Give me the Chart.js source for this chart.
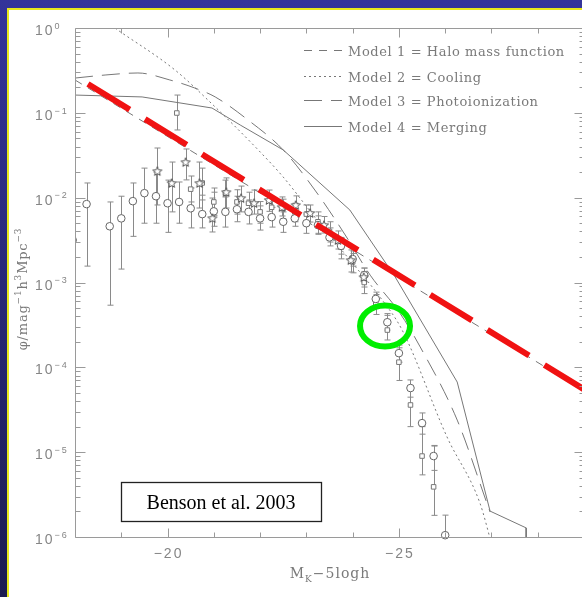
<!DOCTYPE html>
<html>
<head>
<meta charset="utf-8">
<title>K-band luminosity function</title>
<script src="https://cdn.jsdelivr.net/npm/chart.js@4.4.1/dist/chart.umd.min.js"></script>
<style>
  html, body { margin: 0; padding: 0; overflow: hidden; }
  body { width: 582px; height: 597px; position: relative; background: linear-gradient(#34349a, #1b1b50); }
  #slide { position: absolute; left: 7px; top: 8px; width: 600px; height: 600px; background: #fff;
           border-left: 2px solid #e8e81c; border-top: 2px solid #e8e81c; }
  #lf { position: absolute; left: 0; top: 0; }
</style>
</head>
<body>
<div id="slide"><canvas id="lf" width="582" height="587"></canvas></div>
<script>
// model curves: M_K - 5logh against phi
const model1Mag = [-18, -29];
const model1Phi = [0.244, 5.3e-5];

const model2Mag = [-18.6, -18.86, -20.16, -20.87, -21.96, -22.5, -23.23, -23.94, -24.59, -25.07, -26.04, -26.75, -27.01];
const model2Phi = [1.26, 1.0, 0.32, 0.142, 0.0365, 0.0175, 5.46e-3, 1.84e-3, 6.75e-4, 2.75e-4, 1.51e-5, 2.52e-6, 8e-7];

const model3Mag = [-18, -18.65, -19.36, -20.05, -20.59, -21.03, -21.74, -22.5, -23.23, -23.84, -24.38, -25.02, -25.46, -26.26, -26.9, -26.97];
const model3Phi = [0.257, 0.279, 0.295, 0.244, 0.196, 0.154, 0.0823, 0.0365, 0.01135, 3.63e-3, 1.22e-3, 4.37e-4, 1.74e-4, 2.39e-5, 2.52e-6, 1.97e-6];

const model4Mag = [-18, -19.45, -20.96, -21.57, -22.5, -23.94, -24.92, -26.26, -26.97, -27.75, -27.75];
const model4Phi = [0.162, 0.154, 0.114, 0.0719, 0.0365, 7.15e-3, 1.16e-3, 6.71e-5, 2.02e-6, 1.28e-6, 5e-7];

// thick red power law
const redMag = [-18.28, -29];
const redPhi = [0.219, 5.5e-5];

// observed points (circles, squares, stars) with error bar ends
const circleMag = [-17.95, -18.25, -18.75, -19, -19.25, -19.5, -19.75, -20, -20.25, -20.5, -20.75, -21, -21.25, -21.5, -21.75, -22, -22.25, -22.5, -22.75, -23, -23.25, -23.5, -23.75, -24, -24.25, -24.5, -24.75, -25, -25.25, -25.5, -25.75, -26];
const circlePhi = [3.16e-3, 8.4e-3, 4.6e-3, 5.7e-3, 9.1e-3, 1.13e-2, 1.04e-2, 8.6e-3, 8.9e-3, 7.5e-3, 6.4e-3, 6.9e-3, 6.8e-3, 7.3e-3, 6.8e-3, 5.7e-3, 5.9e-3, 5.2e-3, 5.7e-3, 5.0e-3, 4.75e-3, 3.4e-3, 2.7e-3, 1.89e-3, 1.22e-3, 6.4e-4, 3.4e-4, 1.47e-4, 5.7e-5, 2.2e-5, 9.0e-6, 1.05e-6];
const circleHi = [null, 1.49e-2, 8.9e-3, 1.04e-2, 1.49e-2, 2.23e-2, 2.0e-2, 1.61e-2, 1.53e-2, 1.30e-2, 1.07e-2, 1.16e-2, 1.02e-2, 1.04e-2, 9.4e-3, 8.0e-3, 7.7e-3, 6.8e-3, 7.1e-3, 6.4e-3, 6.1e-3, 4.4e-3, 3.3e-3, 2.35e-3, 1.48e-3, 7.7e-4, 4.1e-4, 1.83e-4, 7.1e-5, 2.9e-5, 1.18e-5, 1.81e-6];
const circleLo = [null, 1.56e-3, 5.4e-4, 1.44e-3, 3.5e-3, 5.0e-3, 5.0e-3, 3.9e-3, 5.0e-3, 4.4e-3, 4.4e-3, 4.6e-3, 4.5e-3, 5.2e-3, 4.9e-3, 4.15e-3, 4.5e-3, 3.9e-3, 4.6e-3, 3.8e-3, 3.7e-3, 2.7e-3, 2.16e-3, 1.56e-3, 1.01e-3, 5.3e-4, 2.75e-4, 1.15e-4, 4.45e-5, 1.63e-5, 6.1e-6, 5e-7];

const squareMag = [-20.2, -20.5, -20.75, -21, -21.25, -21.5, -21.75, -22, -22.25, -22.5, -22.75, -23, -23.25, -23.5, -23.75, -24, -24.25, -24.5, -24.75, -25, -25.25, -25.5, -25.75];
const squarePhi = [9.95e-2, 1.26e-2, 1.49e-2, 8.9e-3, 1.13e-2, 8.9e-3, 8.6e-3, 6.8e-3, 7.7e-3, 7.5e-3, 6.8e-3, 6.4e-3, 5.2e-3, 4.0e-3, 2.6e-3, 1.75e-3, 1.0e-3, 5.6e-4, 2.75e-4, 1.15e-4, 3.6e-5, 9.0e-6, 3.9e-6];
const squareHi = [0.162, 1.8e-2, 2.23e-2, 1.3e-2, 1.61e-2, 1.24e-2, 1.16e-2, 9.0e-3, 1.0e-2, 9.6e-3, 8.6e-3, 8.2e-3, 6.8e-3, 5.2e-3, 3.4e-3, 2.2e-3, 1.35e-3, 7.2e-4, 4.3e-4, 1.7e-4, 5.7e-5, 2.0e-5, 1.2e-5];
const squareLo = [0.0628, 8.9e-3, 9.4e-3, 6.2e-3, 7.2e-3, 6.4e-3, 6.3e-3, 5.0e-3, 5.8e-3, 5.6e-3, 5.2e-3, 4.9e-3, 3.8e-3, 3.0e-3, 1.9e-3, 1.3e-3, 7.4e-4, 4.2e-4, 2.1e-4, 7.0e-5, 2.0e-5, 5.4e-6, 1.8e-6];

const starMag = [-19.78, -20.09, -20.39, -20.69, -20.97, -21.27, -21.59, -21.87, -22.19, -22.47, -22.77, -23.08, -23.38, -23.68, -23.96, -24.24];
const starPhi = [0.0206, 0.0149, 0.0263, 0.0149, 5.75e-3, 0.01166, 9.9e-3, 8.65e-3, 9.4e-3, 7.76e-3, 8.2e-3, 6.6e-3, 4.76e-3, 3.17e-3, 1.84e-3, 1.16e-3];
const starHi = [0.0385, 0.0263, 0.0375, 0.0263, 9.9e-3, 0.0171, 0.0137, 0.0123, 0.0123, 0.0102, 0.0105, 8.2e-3, 6.0e-3, 4.05e-3, 2.42e-3, 1.48e-3];
const starLo = [8.2e-3, 6.8e-3, 0.0162, 7.55e-3, 3.94e-3, 7.55e-3, 6.8e-3, 6.4e-3, 6.9e-3, 6.08e-3, 6.4e-3, 5.16e-3, 3.83e-3, 2.48e-3, 1.33e-3, 8.85e-4];

// axis labelling
const xMajor = [-20, -25];
const xMajorText = ['\u221220', '\u221225'];
const yExp = [0, -1, -2, -3, -4, -5, -6];
const legendText = ['Model 1 = Halo mass function', 'Model 2 = Cooling', 'Model 3 = Photoionization', 'Model 4 = Merging'];
const legendDash = [[8, 7], [2, 3], [18, 9], []];

const grey = '#777';

function pts(mag, phi) {
    return mag.map((m, i) => ({ x: m, y: phi[i] }));
}

function modelSet(mag, phi, dash, smooth) {
    return {
        data: pts(mag, phi), showLine: true, pointRadius: 0, borderColor: grey, borderWidth: 1,
        borderDash: dash, cubicInterpolationMode: smooth ? 'monotone' : 'default', order: 5
    };
}

// small open five-pointed star for the third sample
function starMarker() {
    const c = document.createElement('canvas');
    c.width = 12; c.height = 12;
    const g = c.getContext('2d');
    g.beginPath();
    for (let i = 0; i < 10; i++) {
        const r = i % 2 ? 2.1 : 4.8;
        const a = -Math.PI / 2 + i * Math.PI / 5;
        g.lineTo(6 + r * Math.cos(a), 6.5 + r * Math.sin(a));
    }
    g.closePath();
    g.fillStyle = '#fff';
    g.fill();
    g.strokeStyle = '#555';
    g.lineWidth = 1;
    g.stroke();
    return c;
}

// text with super/subscripts, drawn piece by piece
function richText(ctx, parts, x, y, size, family, spacing) {
    let cx = x;
    parts.forEach(p => {
        const s = p.sup || p.sub ? Math.round(size * 0.66) : size;
        ctx.font = s + 'px ' + family;
        ctx.letterSpacing = spacing + 'px';
        const dy = p.sup ? -size * 0.45 : (p.sub ? size * 0.28 : 0);
        ctx.fillText(p.t, cx, y + dy);
        cx += ctx.measureText(p.t).width;
    });
    return cx - x;
}
function richWidth(ctx, parts, size, family, spacing) {
    let w = 0;
    parts.forEach(p => {
        const s = p.sup || p.sub ? Math.round(size * 0.66) : size;
        ctx.font = s + 'px ' + family;
        ctx.letterSpacing = spacing + 'px';
        w += ctx.measureText(p.t).width;
    });
    return w;
}

const errorBars = {
    id: 'errorBars',
    beforeDatasetsDraw(chart) {
        const { ctx, chartArea: a, scales: { x, y } } = chart;
        ctx.save();
        ctx.beginPath();
        ctx.rect(a.left, a.top, a.right - a.left, a.bottom - a.top);
        ctx.clip();
        ctx.strokeStyle = '#8a8a8a';
        ctx.lineWidth = 1;
        chart.data.datasets.forEach(ds => {
            if (!ds.errHi) return;
            ds.data.forEach((p, i) => {
                if (ds.errHi[i] == null) return;
                const px = Math.round(x.getPixelForValue(p.x)) + 0.5;
                const top = y.getPixelForValue(ds.errHi[i]);
                const bot = y.getPixelForValue(ds.errLo[i]);
                ctx.beginPath();
                ctx.moveTo(px, top); ctx.lineTo(px, bot);
                ctx.moveTo(px - 3, top); ctx.lineTo(px + 3, top);
                ctx.moveTo(px - 3, bot); ctx.lineTo(px + 3, bot);
                ctx.stroke();
            });
        });
        ctx.restore();
    }
};

const frame = {
    id: 'frame',
    afterDatasetsDraw(chart) {
        const { ctx, chartArea: a, scales: { x, y } } = chart;
        ctx.save();
        ctx.strokeStyle = '#9a9a9a';
        ctx.lineWidth = 1;
        const L = Math.round(a.left) + 0.5, R = Math.round(a.right) + 0.5;
        const T = Math.round(a.top) + 0.5, B = Math.round(a.bottom) + 0.5;
        ctx.beginPath();
        ctx.moveTo(L, T); ctx.lineTo(R, T); ctx.lineTo(R, B); ctx.lineTo(L, B); ctx.closePath();
        // magnitude ticks, every unit, longer at multiples of five
        for (let m = -19; m >= -28; m--) {
            const px = Math.round(x.getPixelForValue(m)) + 0.5;
            const len = m % 5 === 0 ? 9 : 5;
            ctx.moveTo(px, B); ctx.lineTo(px, B - len);
            ctx.moveTo(px, T); ctx.lineTo(px, T + len);
        }
        // log ticks, decades longer
        yExp.forEach(e => {
            for (let k = 1; k <= 9; k++) {
                if (e === 0 && k > 1) continue;
                const py = Math.round(y.getPixelForValue(k * Math.pow(10, e))) + 0.5;
                const len = k === 1 ? 10 : 5;
                ctx.moveTo(L, py); ctx.lineTo(L + len, py);
                ctx.moveTo(R, py); ctx.lineTo(R - len, py);
            }
        });
        ctx.stroke();

        // tick labels
        ctx.fillStyle = '#858585';
        ctx.textBaseline = 'alphabetic';
        ctx.textAlign = 'left';
        yExp.forEach(e => {
            const py = y.getPixelForValue(Math.pow(10, e));
            richText(ctx, [{ t: '10' }, { t: e === 0 ? '0' : '\u2212' + (-e), sup: true }], 26, py + 7, 14, 'Liberation Sans', 2);
        });
        xMajor.forEach((m, i) => {
            ctx.font = '14px Liberation Sans';
            ctx.letterSpacing = '2px';
            const w = ctx.measureText(xMajorText[i]).width;
            ctx.fillText(xMajorText[i], x.getPixelForValue(m) - w / 2 + 1, 548);
        });

        // axis titles
        ctx.fillStyle = '#7a7a7a';
        const xt = [{ t: 'M' }, { t: 'K', sub: true }, { t: '\u22125logh' }];
        const xw = richWidth(ctx, xt, 14, 'DejaVu Serif', 1);
        richText(ctx, xt, 321 - xw / 2, 568, 14, 'DejaVu Serif', 1);
        const yt = [{ t: '\u03c6/mag' }, { t: '\u22121', sup: true }, { t: 'h' }, { t: '3', sup: true }, { t: 'Mpc' }, { t: '\u22123', sup: true }];
        const yw = richWidth(ctx, yt, 13, 'DejaVu Serif', 0.8);
        ctx.save();
        ctx.translate(18, 279);
        ctx.rotate(-Math.PI / 2);
        richText(ctx, yt, -yw / 2, 0, 13, 'DejaVu Serif', 0.8);
        ctx.restore();

        // legend
        legendText.forEach((t, i) => {
            const ly = [40.5, 66.5, 90.5, 116.5][i];
            ctx.strokeStyle = grey;
            ctx.setLineDash(legendDash[i]);
            ctx.beginPath();
            ctx.moveTo(295, ly); ctx.lineTo(333, ly);
            ctx.stroke();
            ctx.setLineDash([]);
            ctx.fillStyle = '#7a7a7a';
            ctx.font = '13px DejaVu Serif';
            ctx.letterSpacing = '0.6px';
            ctx.fillText(t, 339, ly + 5);
        });
        ctx.letterSpacing = '0px';

        // highlighted point
        ctx.strokeStyle = '#00ee00';
        ctx.lineWidth = 6;
        ctx.beginPath();
        ctx.ellipse(x.getPixelForValue(-24.7), y.getPixelForValue(3.07e-4), 25, 20.5, 0, 0, Math.PI * 2);
        ctx.stroke();

        // citation box
        ctx.fillStyle = '#fff';
        ctx.fillRect(112, 472, 200, 39);
        ctx.strokeStyle = '#222';
        ctx.lineWidth = 1.3;
        ctx.strokeRect(112.5, 472.5, 200, 39);
        ctx.fillStyle = '#000';
        ctx.font = '20px Liberation Serif';
        ctx.textAlign = 'center';
        ctx.fillText('Benson et al. 2003', 212, 499);
        ctx.restore();
    }
};

const star = starMarker();

new Chart(document.getElementById('lf'), {
    type: 'scatter',
    data: {
        datasets: [
            {
                data: pts(redMag, redPhi), showLine: true, pointRadius: 0, borderColor: '#f01212',
                borderWidth: 6, borderDash: [49, 18], borderCapStyle: 'butt', order: 0
            },
            { data: pts(circleMag, circlePhi), errHi: circleHi, errLo: circleLo, pointStyle: 'circle', pointRadius: 3.8,
              borderColor: '#666', backgroundColor: '#fff', pointBorderWidth: 1, order: 2,
              clip: { left: 0, top: 6, right: 6, bottom: 6 } },
            { data: pts(squareMag, squarePhi), errHi: squareHi, errLo: squareLo, pointStyle: 'rect', pointRadius: 3.2,
              borderColor: '#777', backgroundColor: '#fff', pointBorderWidth: 1, order: 3 },
            { data: pts(starMag, starPhi), errHi: starHi, errLo: starLo, pointStyle: star, order: 1 },
            modelSet(model1Mag, model1Phi, [8, 7], false),
            modelSet(model2Mag, model2Phi, [2, 3], true),
            modelSet(model3Mag, model3Phi, [18, 9], true),
            modelSet(model4Mag, model4Phi, [], false)
        ]
    },
    options: {
        responsive: false,
        animation: false,
        layout: { padding: { left: 66, top: 18, right: 7, bottom: 60 } },
        scales: {
            x: { type: 'linear', min: -29, max: -18, reverse: true, display: false },
            y: { type: 'logarithmic', min: 1e-6, max: 1, display: false }
        },
        plugins: { legend: { display: false }, tooltip: { enabled: false } }
    },
    plugins: [errorBars, frame]
});
</script>
</body>
</html>
